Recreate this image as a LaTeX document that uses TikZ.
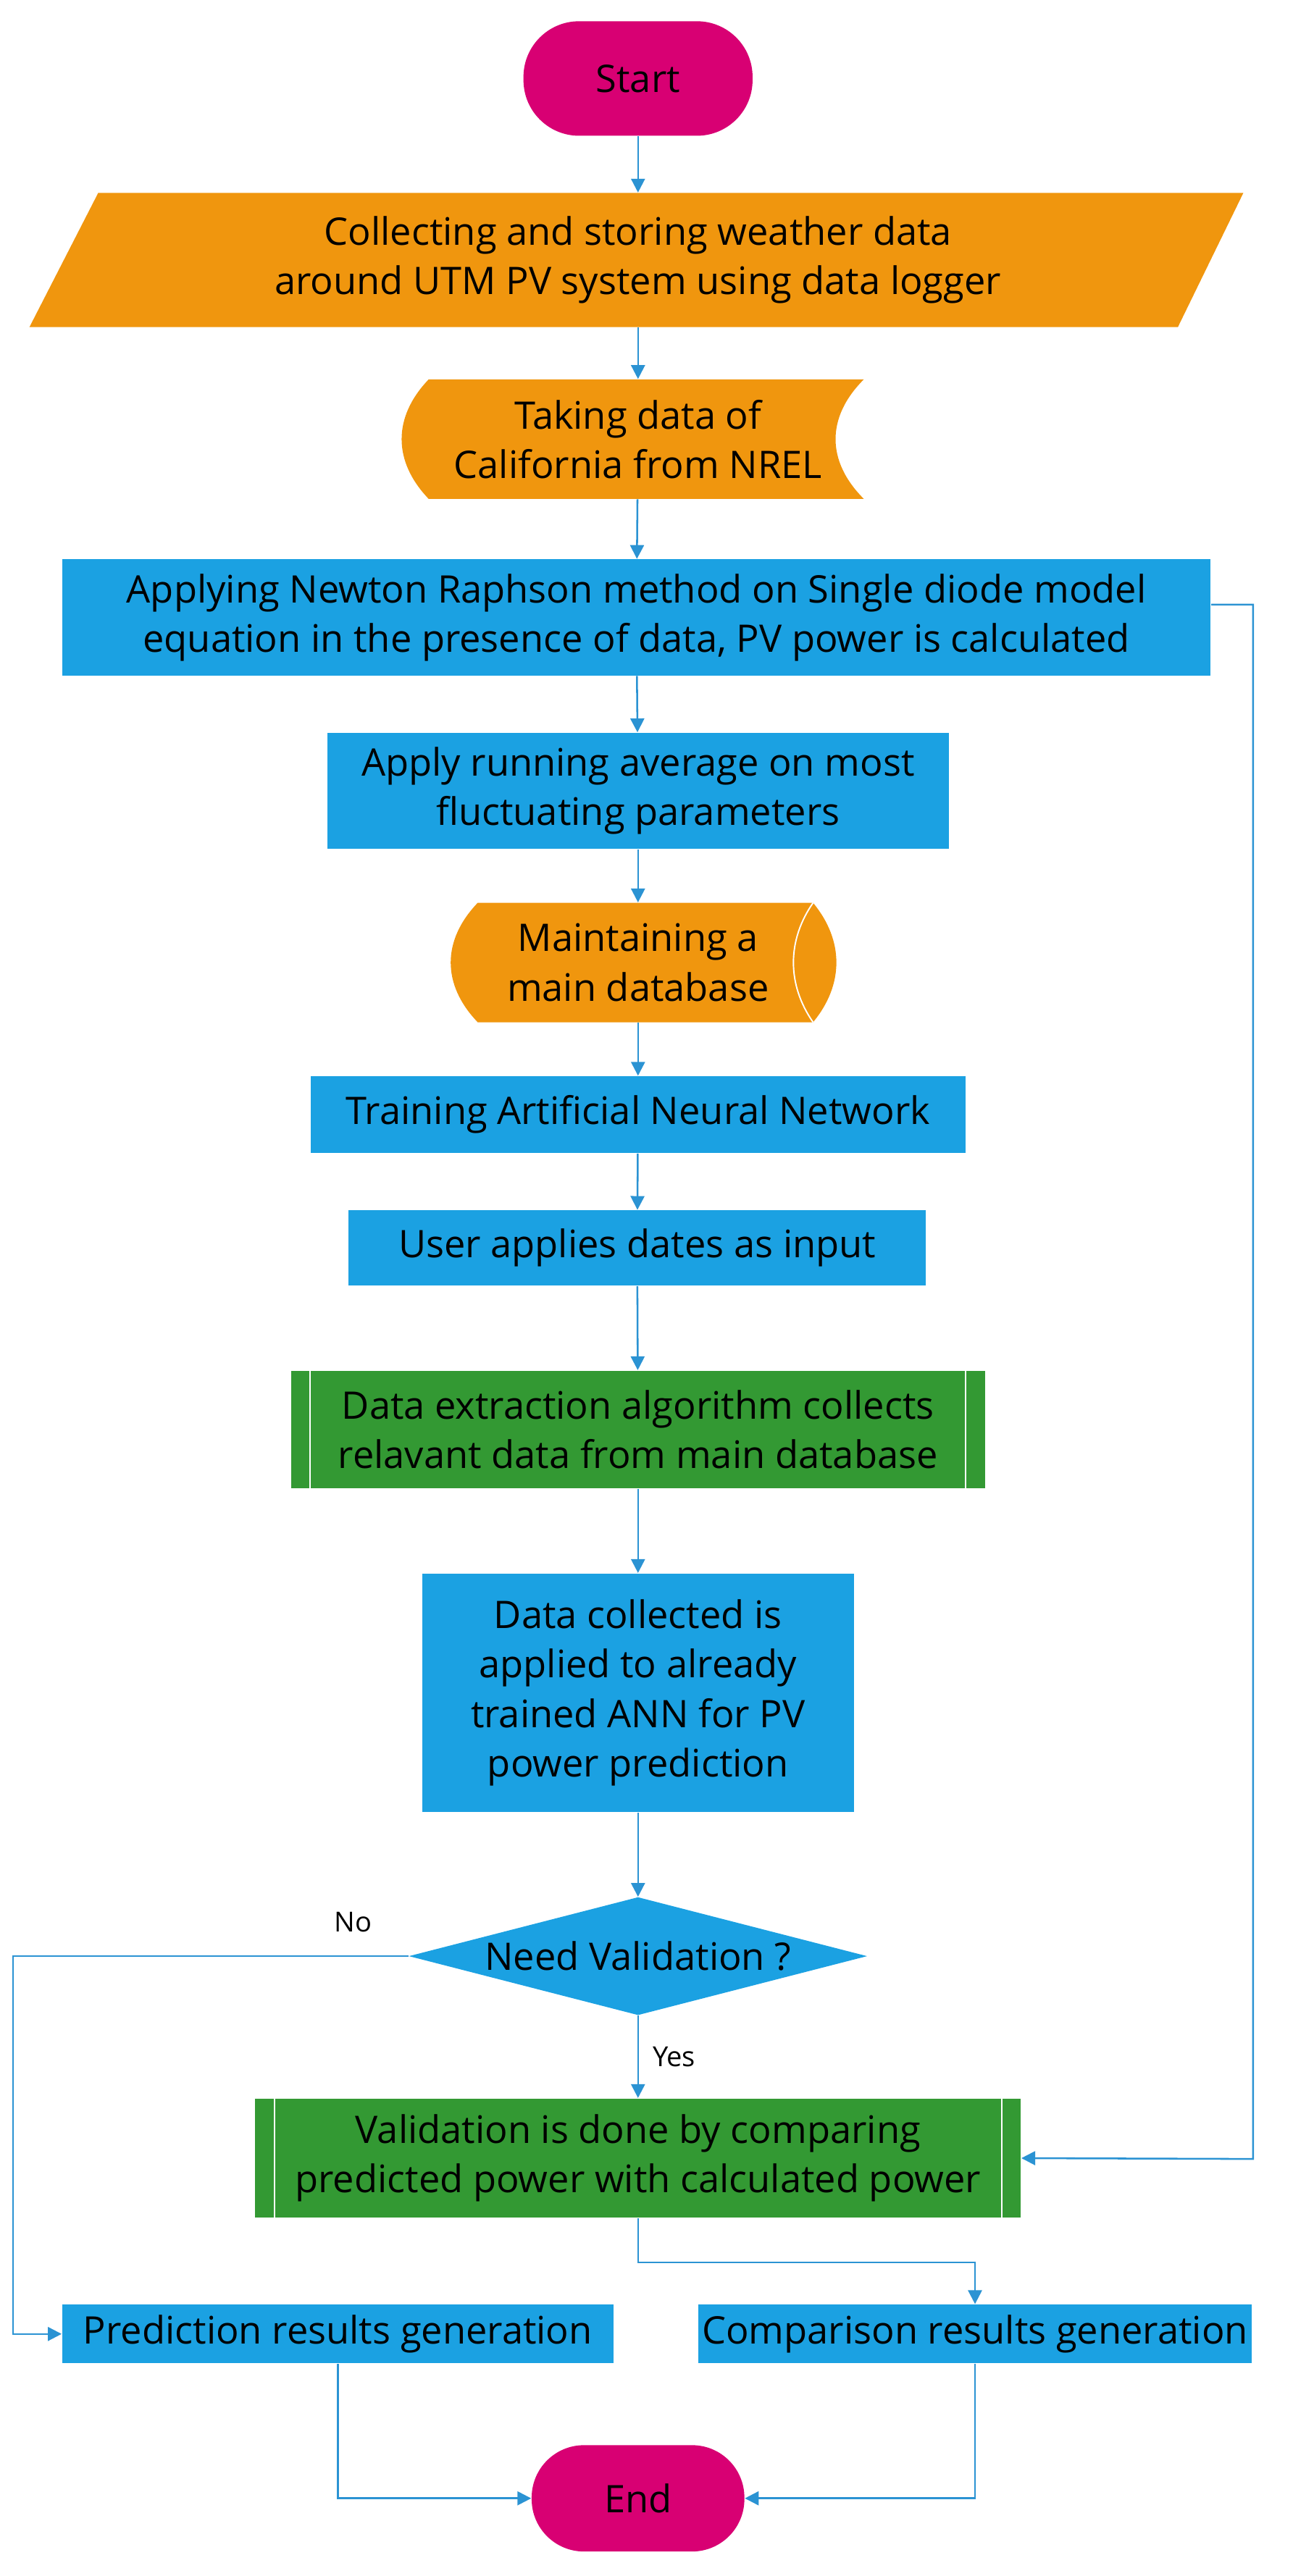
\documentclass[tikz,border=0pt]{standalone}
\usepackage{fontspec}
\setmainfont{Open Sans}
\usetikzlibrary{arrows.meta}
\definecolor{pvblue}{HTML}{1BA1E2}
\definecolor{pvorange}{HTML}{F0960E}
\definecolor{pvgreen}{HTML}{339933}
\definecolor{pvpink}{HTML}{D80073}
\definecolor{pvline}{HTML}{2B93D3}
\begin{document}
\begin{tikzpicture}
  [x=0.025cm,y=-0.025cm,
   every node/.style={font=\fontsize{16.5}{21.5}\selectfont,align=center,text=black,inner sep=0pt},
   box/.style={rectangle,fill=pvblue},
   proc/.style={rectangle,fill=pvgreen},
   term/.style={rectangle,rounded corners=0.85cm,fill=pvpink},
   link/.style={pvline,line width=0.8pt,-{Triangle[width=6pt,length=6pt]}},
   lab/.style={font=\fontsize{12}{14}\selectfont}]
  \useasboundingbox (0,0) rectangle (790,1575);

  % shapes drawn directly
  \fill[pvorange] (60,118) -- (760,118) -- (720,200) -- (18,200) -- cycle;
  \fill[pvorange] (262,232) -- (528,232) .. controls (505,255) and (505,282) .. (528,305)
    -- (262,305) .. controls (240,282) and (240,255) .. (262,232) -- cycle;
  \fill[pvorange] (292,552) -- (497,552) .. controls (516,575) and (516,602) .. (497,625)
    -- (292,625) .. controls (270,602) and (270,575) .. (292,552) -- cycle;
  \draw[white,line width=0.6pt] (497,552) .. controls (481,575) and (481,602) .. (497,625);
  \fill[pvblue] (390,1160) -- (530,1196) -- (390,1232) -- (250,1196) -- cycle;

  \node[term,minimum width=3.5cm,minimum height=1.75cm] (start) at (390,48) {Start};
  \node[minimum height=2.05cm] (weather) at (390,159) {Collecting and storing weather data\\around UTM PV system using data logger};
  \node[minimum height=1.825cm] (nrel) at (390,268.5) {Taking data of\\California from NREL};
  \node[box,minimum width=17.55cm,minimum height=1.775cm] (newton) at (389,377.5) {Applying Newton Raphson method on Single diode model\\equation in the presence of data, PV power is calculated};
  \node[box,minimum width=9.5cm,minimum height=1.775cm] (avg) at (390,483.5) {Apply running average on most\\fluctuating parameters};
  \node[minimum height=1.825cm] (db) at (390,588.5) {Maintaining a\\main database};
  \node[box,minimum width=10cm,minimum height=1.175cm] (train) at (390,681.5) {Training Artificial Neural Network};
  \node[box,minimum width=8.825cm,minimum height=1.15cm] (user) at (389.5,763) {User applies dates as input};
  \node[proc,minimum width=10.6cm,minimum height=1.8cm] (extract) at (390,874) {Data extraction algorithm collects\\relavant data from main database};
  \node[box,minimum width=6.6cm,minimum height=3.65cm] (apply) at (390,1035) {Data collected is\\applied to already\\trained ANN for PV\\power prediction};
  \node[minimum width=7cm,minimum height=1.8cm] (need) at (390,1196) {Need Validation ?};
  \node[proc,minimum width=11.7cm,minimum height=1.825cm] (valid) at (390,1319.5) {Validation is done by comparing\\predicted power with calculated power};
  \node[box,minimum width=8.425cm,minimum height=0.9cm] (pred) at (206.5,1427) {Prediction results generation};
  \node[box,minimum width=8.45cm,minimum height=0.9cm] (comp) at (596,1427) {Comparison results generation};
  \node[term,minimum width=3.25cm,minimum height=1.625cm,rounded corners=0.8cm] (end) at (390,1527.5) {End};

  % inner lines of the green boxes
  \draw[white,line width=0.6pt] ([xshift=0.3cm]extract.north west) -- ([xshift=0.3cm]extract.south west);
  \draw[white,line width=0.6pt] ([xshift=-0.3cm]extract.north east) -- ([xshift=-0.3cm]extract.south east);
  \draw[white,line width=0.6pt] ([xshift=0.3cm]valid.north west) -- ([xshift=0.3cm]valid.south west);
  \draw[white,line width=0.6pt] ([xshift=-0.3cm]valid.north east) -- ([xshift=-0.3cm]valid.south east);

  \draw[link] (start) -- (weather);
  \draw[link] (weather) -- (nrel);
  \draw[link] (nrel) -- (newton);
  \draw[link] (newton) -- (avg);
  \draw[link] (avg) -- (db);
  \draw[link] (db) -- (train);
  \draw[link] (train) -- (user);
  \draw[link] (user) -- (extract);
  \draw[link] (extract) -- (apply);
  \draw[link] (apply) -- (need);
  \draw[link] (need) -- node[lab,right=6pt] {Yes} (valid);
  \draw[link] ([yshift=-0.7cm]newton.north east) -| (766,1320) -- (valid.east);
  \draw[link] (need.west) -- node[lab,above=10pt,pos=0.14] {No} (8,1196) |- (pred.west);
  \draw[link] (valid.south) -- ++(0,27) -| (comp.north);
  \draw[link] (pred.south) |- (end.west);
  \draw[link] (comp.south) |- (end.east);
\end{tikzpicture}
\end{document}
